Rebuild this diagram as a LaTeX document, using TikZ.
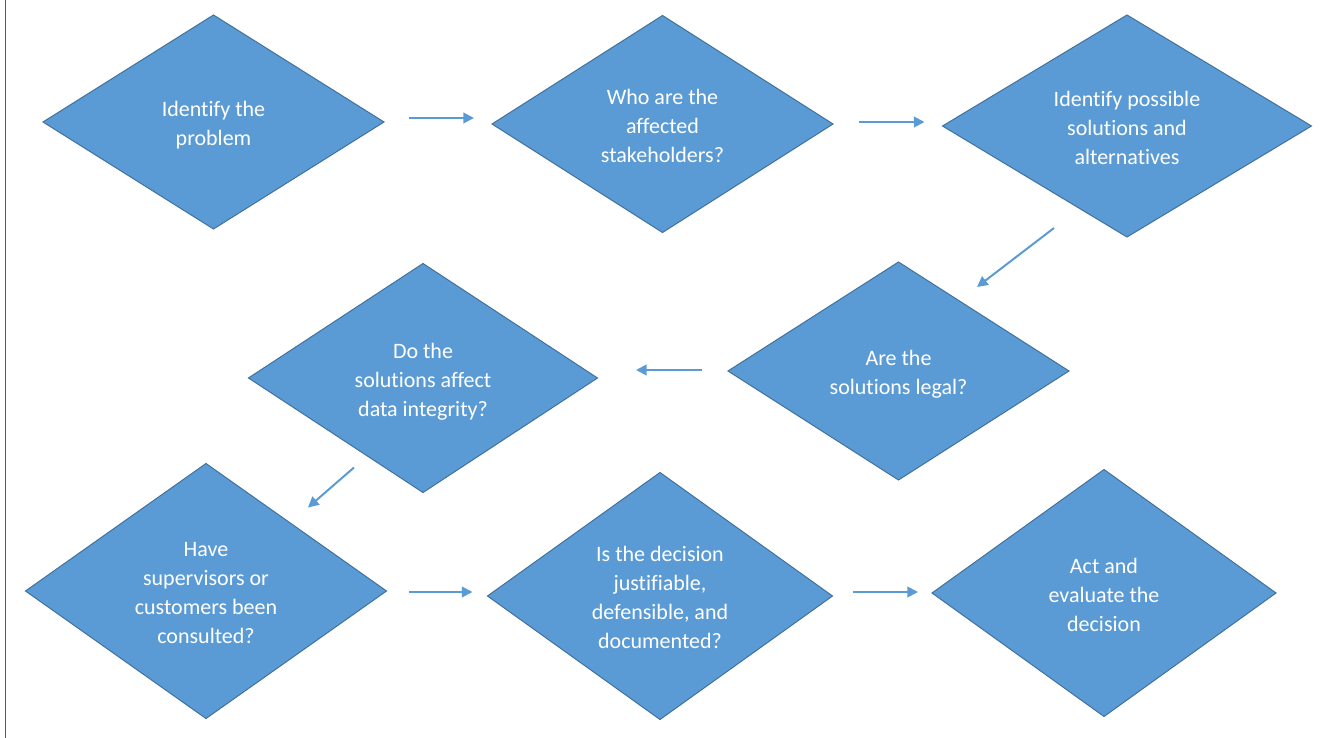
\documentclass[tikz,border=0pt]{standalone}
\usepackage{fontspec}
\setmainfont{Carlito}[Ligatures=NoCommon]
\usetikzlibrary{shapes.geometric,arrows.meta,calc}
\definecolor{boxfill}{HTML}{5B9BD5}
\definecolor{boxline}{HTML}{41719C}
\definecolor{arrowc}{HTML}{5B9BD5}
\newcommand\dtext[1]{\raisebox{-2.6pt}[\height][\depth]{\begin{tabular}{@{}c@{}}#1\end{tabular}}}
\begin{document}
\begin{tikzpicture}[x=0.75pt,y=-0.75pt,
  dec/.style={diamond, draw=boxline, line width=0.75pt, fill=boxfill, text=white,
    align=center, font=\fontsize{16.5}{21.75}\selectfont, inner sep=0pt, outer sep=0pt, aspect=1.5},
  arr/.style={draw=arrowc, line width=1.5pt, -{Triangle[length=8pt,width=8pt]}}]
\useasboundingbox (0,0) rectangle (1339,738);
\draw[line width=0.75pt, black!65] (5,0) -- (5,738);

\node[dec, minimum width=255.75pt, minimum height=160.5pt] (d1) at (213.5,122) {\dtext{Identify the\\problem}};
\node[dec, minimum width=255.75pt, minimum height=162.75pt] (d2) at (662.5,124) {\dtext{Who are the\\affected\\stakeholders?}};
\node[dec, minimum width=276.75pt, minimum height=166.5pt] (d3) at (1127,126) {\dtext{Identify possible\\solutions and\\alternatives}};
\node[dec, minimum width=255.75pt, minimum height=163.5pt] (d4) at (898.5,371) {\dtext{Are the\\solutions legal?}};
\node[dec, minimum width=261.75pt, minimum height=171.75pt] (d5) at (423,378) {\dtext{Do the\\solutions affect\\data integrity?}};
\node[dec, minimum width=270.75pt, minimum height=191.25pt] (d6) at (206,591) {\dtext{Have\\supervisors or\\customers been\\consulted?}};
\node[dec, minimum width=258.75pt, minimum height=185.25pt] (d7) at (660,596) {\dtext{Is the decision\\justifiable,\\defensible, and\\documented?}};
\node[dec, minimum width=258pt, minimum height=185.25pt] (d8) at (1104,593) {\dtext{Act and\\evaluate the\\decision}};

\draw[arr] ($(d1.east)+(25,-4)$) -- ($(d2.west)+(-18,-6)$);
\draw[arr] ($(d2.east)+(26,-2)$) -- ($(d3.west)+(-18,-4)$);
\draw[arr] ($(d3.south)+(-73,-9)$) -- ($(d4.north)+(78.5,25)$);
\draw[arr] ($(d4.west)+(-26,-1)$) -- ($(d5.east)+(38.5,-8)$);
\draw[arr] ($(d5.south)+(-69,-25)$) -- ($(d6.north)+(102,44)$);
\draw[arr] ($(d6.east)+(22,1)$) -- ($(d7.west)+(-15,-4)$);
\draw[arr] ($(d7.east)+(20,-4)$) -- ($(d8.west)+(-14,-1)$);
\end{tikzpicture}
\end{document}
